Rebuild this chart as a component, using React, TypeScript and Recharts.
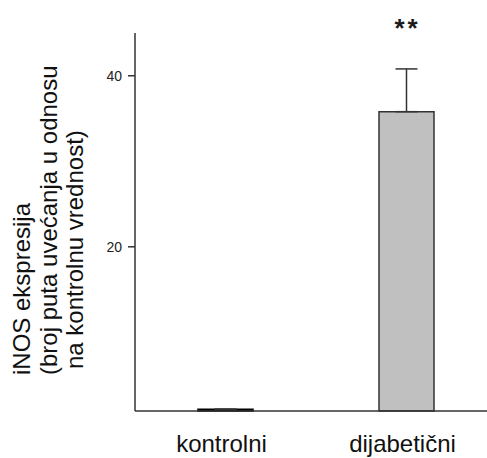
import { BarChart, Bar, XAxis, YAxis, ErrorBar, Cell, LabelList, Label } from "recharts";

const groups = ["kontrolni", "dijabetični"];
const expression = [1.0, 35.8];
const errorUp = [0, 5.0];
const significance = ["", "**"];
const yTicks = [20, 40];
const yLabelLines = [
  "iNOS ekspresija",
  "(broj puta uvećanja u odnosu",
  "na kontrolnu vrednost)",
];
const barFills = ["#000000", "#c0c0c0"];
const barStrokes = ["#000000", "#333333"];

const data = groups.map((g, i) => ({
  group: g,
  value: expression[i],
  err: [0, errorUp[i]],
  sig: significance[i],
}));

const font = "'Liberation Sans', Arial, sans-serif";

function YLabel() {
  const xs = [30, 56.5, 83];
  const ys = [375, 375, 369];
  return (
    <g>
      {yLabelLines.map((line, i) => (
        <text
          key={i}
          x={xs[i]}
          y={ys[i]}
          transform={`rotate(-90, ${xs[i]}, ${ys[i]})`}
          fontFamily={font}
          fontSize={24}
          fill="#111"
          textAnchor="start"
        >
          {line}
        </text>
      ))}
    </g>
  );
}

function Stars(props: any) {
  const { x, width, value } = props;
  if (!value) return null;
  return (
    <text
      x={Number(x) + Number(width) / 2 + 1}
      y={37}
      textAnchor="middle"
      fontFamily={font}
      fontSize={26}
      fontWeight="bold"
      letterSpacing={3}
      fill="#1a1a1a"
    >
      {value}
    </text>
  );
}

export default function App() {
  return (
    <div
      style={{
        position: "absolute",
        left: 0,
        top: 0,
        width: 487,
        height: 458,
        overflow: "hidden",
        background: "#fff",
      }}
    >
      <BarChart
        width={500}
        height={458}
        data={data}
        margin={{ top: 33, right: 3, bottom: 0, left: 0 }}
      >
        <XAxis
          dataKey="group"
          height={47}
          tickLine={false}
          tickSize={0}
          tickMargin={24}
          axisLine={{ stroke: "#333", strokeWidth: 1.5 }}
          tick={{ fontFamily: font, fontSize: 24, fill: "#111", dx: -4 }}
        />
        <YAxis
          width={135}
          domain={[0.8, 45]}
          ticks={yTicks}
          tickSize={7}
          tickMargin={6}
          axisLine={{ stroke: "#333", strokeWidth: 1.5 }}
          tickLine={{ stroke: "#333", strokeWidth: 1.5 }}
          tick={{ fontFamily: font, fontSize: 14, fill: "#222" }}
        >
          <Label content={<YLabel />} />
        </YAxis>
        <Bar
          dataKey="value"
          barSize={55}
          strokeWidth={1.5}
          isAnimationActive={false}
        >
          {data.map((d, i) => (
            <Cell key={d.group} fill={barFills[i]} stroke={barStrokes[i]} />
          ))}
          <ErrorBar
            dataKey="err"
            width={11}
            stroke="#333"
            strokeWidth={1.5}
            direction="y"
            isAnimationActive={false}
          />
          <LabelList dataKey="sig" content={<Stars />} />
        </Bar>
      </BarChart>
    </div>
  );
}
